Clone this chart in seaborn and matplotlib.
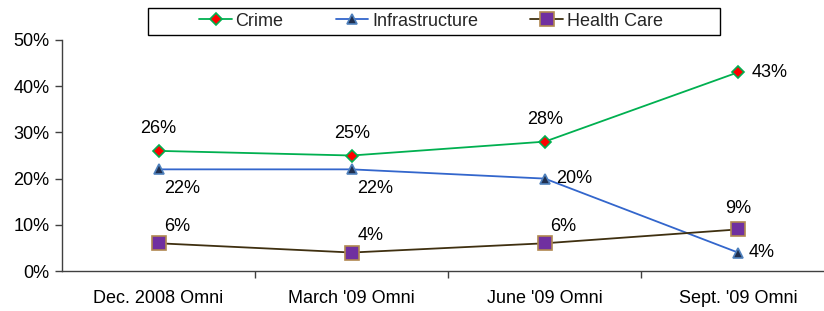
import numpy as np
import pandas as pd
import seaborn as sns
import matplotlib.pyplot as plt
from matplotlib.patches import Rectangle
from matplotlib.ticker import FixedLocator, FuncFormatter

periods = ["Dec. 2008 Omni", "March '09 Omni", "June '09 Omni", "Sept. '09 Omni"]
crime = [26, 25, 28, 43]
infrastructure = [22, 22, 20, 4]
health_care = [6, 4, 6, 9]

sns.set_theme(style="white")
plt.rcParams['font.family'] = ['Liberation Sans', 'DejaVu Sans']

fig = plt.figure(figsize=(8.24, 3.11), dpi=100)
ax = fig.add_axes([62 / 824, 1 - 271 / 311, 1 - 62 / 824, (271 - 40) / 311])

x = np.arange(len(periods))
series = [
    ("Crime", crime, "#00B050", "D", "#FF0000", "#00B050", 6),
    ("Infrastructure", infrastructure, "#3366CC", "^", "#1F2F4F", "#4F81BD", 7),
    ("Health Care", health_care, "#3F3010", "s", "#7030A0", "#B08850", 10),
]
for name, vals, lc, mk, mfc, mec, ms in series:
    df = pd.DataFrame({"x": x, "y": vals})
    sns.lineplot(data=df, x="x", y="y", ax=ax, color=lc, lw=1.3, marker=mk,
                 markersize=ms, markerfacecolor=mfc, markeredgecolor=mec,
                 markeredgewidth=1.2, label=name)

# data labels: offsets in points
offsets = {
    "Crime": [(0, 10, "center", "bottom")] * 3 + [(10, 0, "left", "center")],
    "Infrastructure": [(4, -8, "left", "top")] * 2 + [(8, 0, "left", "center")] * 2,
    "Health Care": [(4, 6, "left", "bottom")] * 3 + [(0, 9, "center", "bottom")],
}
for name, vals, *_ in series:
    for i, v in enumerate(vals):
        dx, dy, ha, va = offsets[name][i]
        ax.annotate(f"{v}%", (x[i], v), xytext=(dx, dy), textcoords="offset points",
                    ha=ha, va=va, fontsize=13, color="black")

# 193 px per category, category 0 at x=159 px
ax.set_xlim(-0.5, (824 - 159) / 193)
ax.set_ylim(0, 50)
ax.set_yticks(range(0, 51, 10))
ax.yaxis.set_major_formatter(FuncFormatter(lambda v, p: f"{int(v)}%"))
ax.set_xticks(x)
ax.set_xticklabels(periods)
ax.xaxis.set_minor_locator(FixedLocator([0.5, 1.5, 2.5]))
ax.tick_params(axis="x", which="major", length=0, pad=14, labelsize=13, colors="black")
ax.tick_params(axis="x", which="minor", length=5, width=1, color="#404040", direction="out", bottom=True)
ax.tick_params(axis="y", length=5, width=1, color="#404040", direction="out", left=True,
               labelsize=13, labelcolor="black", pad=4)
ax.set_xlabel("")
ax.set_ylabel("")
for s in ["top", "right"]:
    ax.spines[s].set_visible(False)
for s in ["left", "bottom"]:
    ax.spines[s].set_color("#404040")
    ax.spines[s].set_linewidth(1)

# legend entries without frame, box drawn separately (wide padding like Excel)
ax.legend(loc="center", bbox_to_anchor=(431 / 824, 1 - 21 / 311),
          bbox_transform=fig.transFigure, ncol=3, frameon=False,
          fontsize=13, handlelength=1.8, columnspacing=2.9, handletextpad=0.2,
          borderpad=0, borderaxespad=0)
fig.add_artist(Rectangle((148 / 824, 1 - 35 / 311), 572 / 824, 27 / 311,
                         transform=fig.transFigure, fill=False,
                         edgecolor="black", linewidth=1))

fig.savefig("out.png", dpi=100)
plt.close()
